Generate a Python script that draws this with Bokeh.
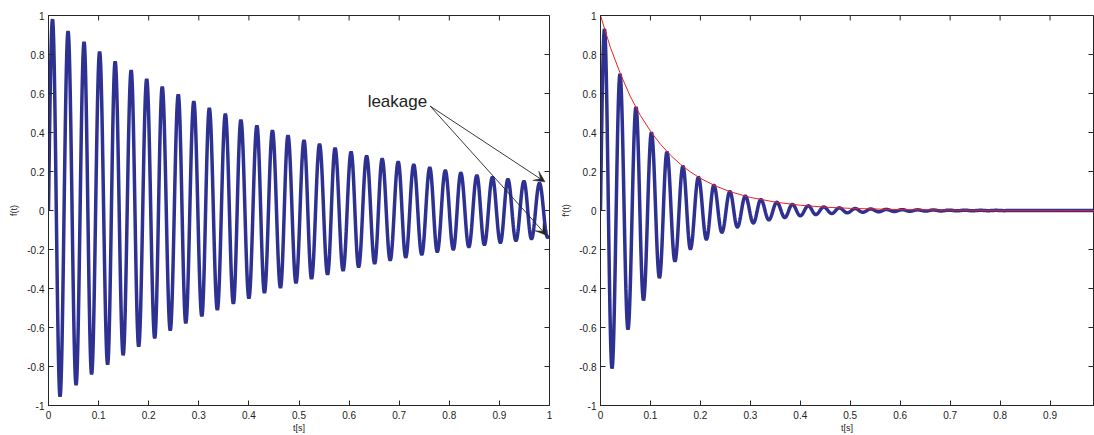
import numpy as np
from bokeh.plotting import figure
from bokeh.layouts import row
from bokeh.models import FixedTicker, Arrow, VeeHead, Label, Range1d
from bokeh.embed import file_html
from bokeh.resources import INLINE

# ---------------- data ----------------
# times of the maxima / minima of the oscillation (both panels)
t_peak = [0.008, 0.039, 0.071, 0.102, 0.133, 0.165, 0.196, 0.227, 0.259, 0.290,
          0.321, 0.353, 0.384, 0.416, 0.447, 0.478, 0.510, 0.541, 0.572, 0.604,
          0.635, 0.666, 0.698, 0.729, 0.761, 0.792, 0.823, 0.855, 0.886, 0.917,
          0.949, 0.980]
t_trough = [0.023, 0.055, 0.086, 0.118, 0.149, 0.180, 0.212, 0.243, 0.274, 0.306,
            0.337, 0.369, 0.400, 0.431, 0.463, 0.494, 0.525, 0.557, 0.588, 0.619,
            0.651, 0.682, 0.713, 0.745, 0.776, 0.808, 0.839, 0.870, 0.902, 0.933,
            0.964, 0.996]

# left panel f(t)
left_peak = [0.98, 0.92, 0.865, 0.815, 0.765, 0.72, 0.675, 0.635, 0.595, 0.56,
             0.525, 0.495, 0.465, 0.435, 0.41, 0.385, 0.36, 0.34, 0.32, 0.30,
             0.28, 0.265, 0.25, 0.235, 0.22, 0.205, 0.193, 0.18, 0.17, 0.16,
             0.15, 0.14]
left_trough = [-0.955, -0.895, -0.84, -0.79, -0.742, -0.698, -0.655, -0.615, -0.578, -0.542,
               -0.51, -0.478, -0.45, -0.422, -0.396, -0.372, -0.35, -0.328, -0.308, -0.29,
               -0.272, -0.255, -0.24, -0.226, -0.212, -0.2, -0.187, -0.176, -0.165, -0.155,
               -0.146, -0.137]
left_end = (1.0, -0.135)

# right panel f'(t)
right_peak = [0.93, 0.70, 0.53, 0.40, 0.30, 0.227, 0.171, 0.13, 0.097, 0.074,
              0.056, 0.042, 0.031, 0.024, 0.018, 0.0135, 0.010, 0.0077, 0.0058, 0.0044,
              0.0033, 0.0025, 0.0019, 0.0014, 0.001, 0.0008, 0.0006, 0.0005, 0.0004, 0.0003,
              0.0002, 0.0002]
right_trough = [-0.81, -0.61, -0.46, -0.345, -0.26, -0.198, -0.148, -0.112, -0.085, -0.064,
                -0.048, -0.036, -0.027, -0.021, -0.0155, -0.0117, -0.0089, -0.0066, -0.005, -0.0038,
                -0.0029, -0.0022, -0.0016, -0.0012, -0.0009, -0.0007, -0.0005, -0.0004, -0.0003, -0.0002,
                -0.0002]
right_end = (0.99, 0.0)

# red envelope of right panel
env_t = [0.0, 0.02, 0.04, 0.06, 0.08, 0.10, 0.12, 0.14, 0.16, 0.18, 0.20, 0.23, 0.26,
         0.30, 0.35, 0.40, 0.45, 0.50, 0.60, 0.70, 0.80, 0.99]
env_v = [1.0, 0.835, 0.70, 0.583, 0.487, 0.407, 0.34, 0.284, 0.237, 0.198, 0.165, 0.126, 0.096,
         0.067, 0.043, 0.027, 0.017, 0.011, 0.0045, 0.0018, 0.0007, 0.0001]

x_ticks_left = [0, 0.1, 0.2, 0.3, 0.4, 0.5, 0.6, 0.7, 0.8, 0.9, 1]
x_labels_left = ["0", "0.1", "0.2", "0.3", "0.4", "0.5", "0.6", "0.7", "0.8", "0.9", "1"]
x_ticks_right = [0, 0.1, 0.2, 0.3, 0.4, 0.5, 0.6, 0.7, 0.8, 0.9]
x_labels_right = ["0", "0.1", "0.2", "0.3", "0.4", "0.5", "0.6", "0.7", "0.8", "0.9"]
y_ticks = [-1, -0.8, -0.6, -0.4, -0.2, 0, 0.2, 0.4, 0.6, 0.8, 1]
y_labels = ["-1", "-0.8", "-0.6", "-0.4", "-0.2", "0", "0.2", "0.4", "0.6", "0.8", "1"]

annot_text = "leakage"
annot_pos = (0.637, 0.558)
arrow_tail = (0.762, 0.535)
arrow_tips = [(0.991, 0.147), (0.994, -0.127)]

BLUE = "#2E3192"
RED = "#F02020"
FONT = "Liberation Sans"
TXT = "#222222"
FRAME = "#262626"
TICK_PX = 5
FRAME_H = 393


def interleave(tp, vp, tt, vt):
    ext = sorted(list(zip(tp, vp)) + list(zip(tt[:len(vt)], vt)))
    return [e[0] for e in ext], [e[1] for e in ext]


def build_wave(t_ext, v_ext, end, n=24):
    s = np.linspace(0, 1, n)[1:]
    xs = [0.0]
    ys = [0.0]
    xs += list(t_ext[0] * s)
    ys += list(v_ext[0] * np.sin(np.pi / 2 * s))
    pts = list(zip(t_ext, v_ext)) + [end]
    for (ta, va), (tb, vb) in zip(pts[:-1], pts[1:]):
        xs += list(ta + (tb - ta) * s)
        ys += list(va + (vb - va) * (1 - np.cos(np.pi * s)) / 2)
    return xs, ys


def style(p, xt, xl, ylab, xmax, frame_w):
    p.outline_line_color = FRAME
    p.outline_line_width = 1
    p.outline_line_alpha = 1
    p.xgrid.visible = False
    p.ygrid.visible = False
    p.background_fill_color = "white"
    p.border_fill_color = "white"
    for ax, ticks, labels in ((p.xaxis[0], xt, xl), (p.yaxis[0], y_ticks, y_labels)):
        ax.ticker = FixedTicker(ticks=ticks)
        ax.major_label_overrides = {t: l for t, l in zip(ticks, labels)}
        ax.major_tick_in = TICK_PX
        ax.major_tick_out = 0
        ax.minor_tick_line_color = None
        ax.axis_line_color = FRAME
        ax.major_tick_line_color = FRAME
        ax.major_label_text_font = FONT
        ax.major_label_text_font_size = "10px"
        ax.major_label_text_color = TXT
        ax.axis_label_text_font = FONT
        ax.axis_label_text_font_size = "9px"
        ax.axis_label_text_font_style = "normal"
        ax.axis_label_text_color = TXT
    p.xaxis[0].axis_label = "t[s]"
    p.xaxis[0].major_label_standoff = 5
    p.xaxis[0].axis_label_standoff = 1
    p.yaxis[0].axis_label = ylab
    p.yaxis[0].major_label_standoff = 4
    p.yaxis[0].axis_label_standoff = 5
    # inward ticks on the top and right edges of the box (MATLAB style)
    dy = TICK_PX * 2.0 / FRAME_H
    dx = TICK_PX * xmax / frame_w
    p.segment(x0=xt, y0=[1] * len(xt), x1=xt, y1=[1 - dy] * len(xt),
              line_color=FRAME, line_width=1)
    p.segment(x0=[xmax] * len(y_ticks), y0=y_ticks, x1=[xmax - dx] * len(y_ticks), y1=y_ticks,
              line_color=FRAME, line_width=1)


# ---------------- left panel ----------------
p1 = figure(width=552, height=435, x_range=Range1d(0, 1), y_range=Range1d(-1, 1),
            min_border_left=48, min_border_right=3, min_border_top=15, min_border_bottom=27,
            toolbar_location=None, output_backend="svg")
style(p1, x_ticks_left, x_labels_left, "f(t)", 1.0, 501)
lt, lv = interleave(t_peak, left_peak, t_trough, left_trough)
x1, y1 = build_wave(lt, lv, left_end)
p1.line(x1, y1, line_color=BLUE, line_width=3.5)

p1.add_layout(Label(x=annot_pos[0], y=annot_pos[1], text=annot_text, text_font=FONT,
                    text_font_size="17px", text_color=TXT, text_align="left",
                    text_baseline="alphabetic"))
for tip in arrow_tips:
    p1.add_layout(Arrow(x_start=arrow_tail[0], y_start=arrow_tail[1], x_end=tip[0], y_end=tip[1],
                        line_color="#222222", line_width=0.9,
                        end=VeeHead(size=11, fill_color="#222222", line_color="#222222",
                                    line_width=0.5)))

# ---------------- right panel ----------------
p2 = figure(width=542, height=435, x_range=Range1d(0, 0.987), y_range=Range1d(-1, 1),
            min_border_left=48, min_border_right=1, min_border_top=15, min_border_bottom=27,
            toolbar_location=None, output_backend="svg")
style(p2, x_ticks_right, x_labels_right, "f'(t)", 0.987, 493)
rt, rv = interleave(t_peak, right_peak, t_trough, right_trough)
x2, y2 = build_wave(rt, rv, right_end)
p2.line(x2, y2, line_color=BLUE, line_width=3.5)
p2.line(env_t, env_v, line_color=RED, line_width=1)

layout = row(p1, p2)
open("out.html", "w").write(file_html(layout, INLINE))
